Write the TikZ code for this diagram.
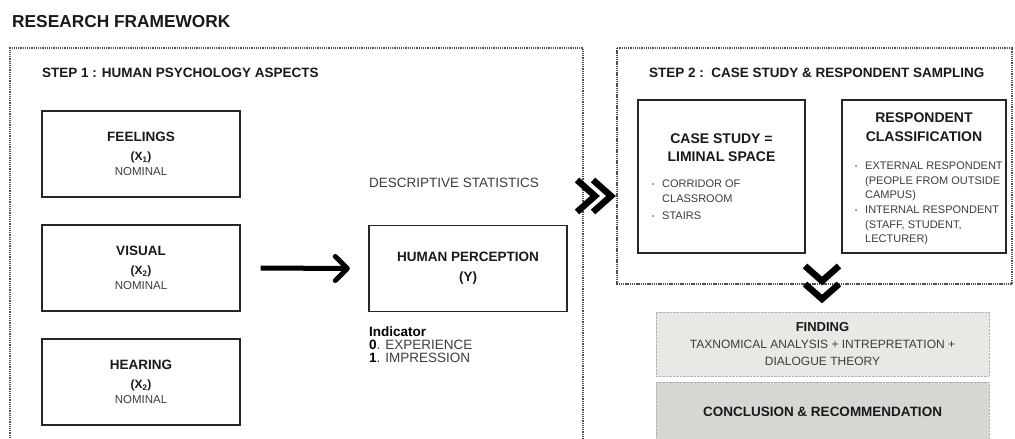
\documentclass[tikz,border=0pt]{standalone}
\usepackage{fontspec}
\setmainfont{Liberation Sans}

\definecolor{inkgray}{HTML}{3C3C3C}
\definecolor{framegray}{HTML}{505050}
\definecolor{findfill}{HTML}{E8E8E5}
\definecolor{concfill}{HTML}{D5D8D2}

\newcommand{\titlefont}{\fontsize{17.3}{20}\selectfont\bfseries}
\newcommand{\headfont}{\fontsize{13.5}{16}\selectfont\bfseries}
\newcommand{\bodyfont}{\fontsize{13.5}{13}\selectfont}
\newcommand{\smallfont}{\fontsize{11}{14.3}\selectfont}
\newcommand{\itemdot}{\makebox[10pt][l]{\raisebox{1pt}{\fontsize{6}{6}\selectfont\textbullet}}}

\tikzset{
  dotline/.style={draw=framegray, line width=1.3pt, dash pattern=on 1.3pt off 0.9pt},
  varbox/.style={draw=black!85, line width=1.4pt, minimum width=198pt, minimum height=86pt,
    align=center, inner sep=0pt, text=black!90},
  casebox/.style={draw=black!85, line width=1.4pt, minimum height=153pt, inner sep=0pt},
  plain/.style={inner sep=0pt, text=inkgray},
  shadebox/.style={draw=gray!60, line width=0.8pt, dash pattern=on 0.8pt off 0.6pt,
    minimum width=333pt, align=center, inner sep=0pt},
  shaft/.style={line width=5pt},
  barb/.style={line width=5pt, line join=round, line cap=round},
  chev/.style={line width=6.5pt, line join=miter}
}

\begin{document}
\begin{tikzpicture}[x=1pt, y=-1pt]
  \useasboundingbox (0,0) rectangle (1015,439);
  \clip (0,0) rectangle (1015,439);

  % frames of the two steps
  \draw[dotline] (10,460) |- (583,48) -- (583,460);
  \draw[dotline] (617,48) rectangle (1012,284);

  \node at (12,22) [plain, anchor=west, text=black!90, font=\titlefont] (title) {RESEARCH FRAMEWORK};
  \node at (42,73) [plain, anchor=west, text=black!90, font=\headfont] (step1) {STEP 1 : HUMAN PSYCHOLOGY ASPECTS};
  \node at (649,73) [plain, anchor=west, text=black!90, font=\headfont] (step2) {STEP 2 :\ \ CASE STUDY \& RESPONDENT SAMPLING};

  % step 1: variables
  \node at (141,154) [varbox] (feel) {{\headfont FEELINGS}\\[7pt]{\headfont\fontsize{12}{14}\selectfont (X\textsubscript{1})}\\[3pt]{\color{inkgray}\fontsize{11.5}{14}\selectfont NOMINAL}};
  \node at (141,268) [varbox] (visual) {{\headfont VISUAL}\\[7pt]{\headfont\fontsize{12}{14}\selectfont (X\textsubscript{2})}\\[3pt]{\color{inkgray}\fontsize{11.5}{14}\selectfont NOMINAL}};
  \node at (141,382) [varbox] (hear) {{\headfont HEARING}\\[7pt]{\headfont\fontsize{12}{14}\selectfont (X\textsubscript{2})}\\[3pt]{\color{inkgray}\fontsize{11.5}{14}\selectfont NOMINAL}};

  \node at (468,268.5) [varbox, font=\headfont] (perc) {HUMAN PERCEPTION\\[4pt](Y)};
  \node at (369,183) [plain, anchor=west, font=\bodyfont] (desc) {DESCRIPTIVE STATISTICS};
  \node at (369,327) [plain, anchor=north west, align=left, font=\bodyfont] (ind)
    {{\color{black}\bfseries Indicator}\\{\color{black}\bfseries 0}. EXPERIENCE\\{\color{black}\bfseries 1}. IMPRESSION};

  % arrow into human perception
  \coordinate (tip) at ([xshift=-21pt]perc.west);
  \draw[shaft] ([xshift=20pt]visual.east) -- (tip);
  \draw[barb] ([shift={(-12,-12)}]tip) -- (tip) -- ([shift={(-12,12)}]tip);

  % step 2: case study and respondents
  \node at (721.5,176.5) [casebox, minimum width=167pt] (case) {};
  \node at (721.5,148) [plain, text=black!90, align=center, font=\fontsize{14}{18}\selectfont\bfseries] (casehead) {CASE STUDY =\\LIMINAL SPACE};
  \node at (652,179.5) [plain, anchor=north west, align=left, font=\fontsize{11}{15.5}\selectfont] (caselist)
    {\itemdot CORRIDOR OF\\\hspace*{10pt}CLASSROOM\\[1.5pt]\itemdot STAIRS};

  \node at (924,176.5) [casebox, minimum width=164pt] (resp) {};
  \node at (924,127.5) [plain, text=black!90, align=center, font=\fontsize{14}{19}\selectfont\bfseries] (resphead) {RESPONDENT\\CLASSIFICATION};
  \node at (855,162) [plain, anchor=north west, align=left, font=\smallfont] (resplist)
    {\itemdot EXTERNAL RESPONDENT\\\hspace*{10pt}(PEOPLE FROM OUTSIDE\\\hspace*{10pt}CAMPUS)\\[1pt]\itemdot INTERNAL RESPONDENT\\\hspace*{10pt}(STAFF, STUDENT,\\\hspace*{10pt}LECTURER)};

  % chevrons between the steps
  \draw[chev] (577,180) -- (595,196) -- (577,212);
  \draw[chev] (593,180) -- (611,196) -- (593,212);
  \draw[chev] (805,266) -- (822,281) -- (839,266);
  \draw[chev] (805,284) -- (822,299) -- (839,284);

  % results
  \node at (822.5,344) [shadebox, fill=findfill, minimum height=64pt, text=inkgray, font=\fontsize{12}{17}\selectfont] (find)
    {{\color{black!90}\fontsize{13}{17}\selectfont\bfseries FINDING}\\TAXNOMICAL ANALYSIS + INTREPRETATION +\\DIALOGUE THEORY};
  \node at (822.5,412) [shadebox, fill=concfill, minimum height=60pt, text=black!90, font=\headfont] (concl) {CONCLUSION \& RECOMMENDATION};
\end{tikzpicture}
\end{document}
